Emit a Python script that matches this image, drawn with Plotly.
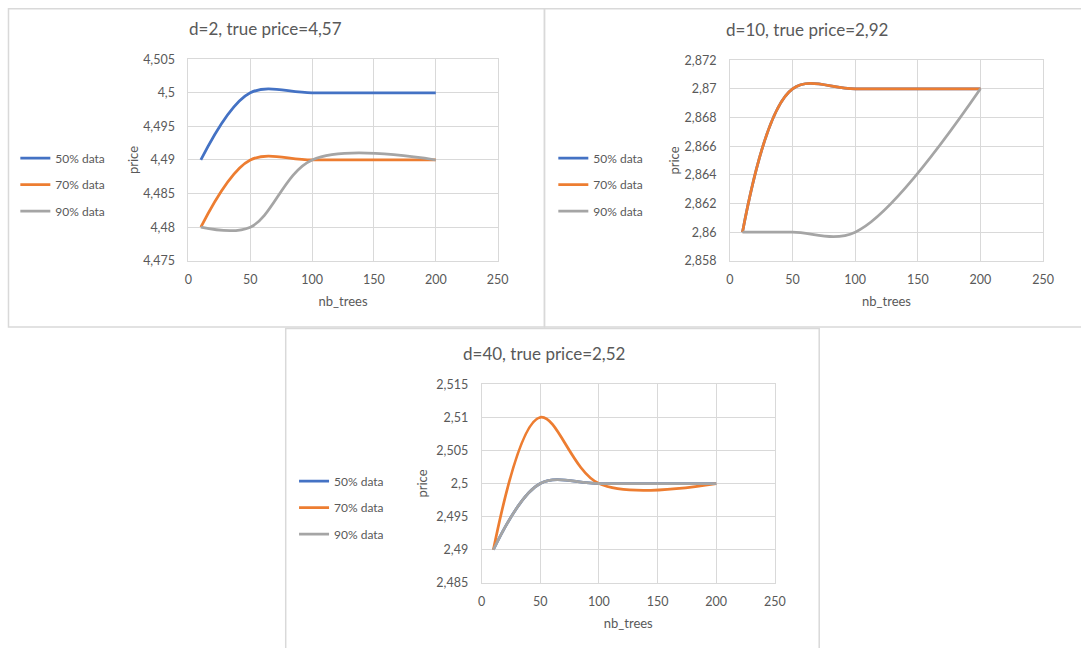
import plotly.graph_objects as go

# ---------------- data ----------------
nb_trees = [10, 50, 100, 200]
series_names = ["50% data", "70% data", "90% data"]
series_colors = ["#4472C4", "#ED7D31", "#A5A5A5"]

d2_50 = [4.49, 4.50, 4.50, 4.50]
d2_70 = [4.48, 4.49, 4.49, 4.49]
d2_90 = [4.48, 4.48, 4.49, 4.49]

d10_50 = [2.86, 2.87, 2.87, 2.87]
d10_70 = [2.86, 2.87, 2.87, 2.87]
d10_90 = [2.86, 2.86, 2.86, 2.87]

d40_50 = [2.49, 2.50, 2.50, 2.50]
d40_70 = [2.49, 2.51, 2.50, 2.50]
d40_90 = [2.49, 2.50, 2.50, 2.50]

chart_titles = ["d=2, true price=4,57", "d=10, true price=2,92", "d=40, true price=2,52"]
y_ranges = [[4.475, 4.505], [2.858, 2.872], [2.485, 2.515]]
y_dticks = [0.005, 0.002, 0.005]
x_range = [0, 250]
x_dtick = 50
x_title = "nb_trees"
y_title = "price"

charts = [
    [d2_50, d2_70, d2_90],
    [d10_50, d10_70, d10_90],
    [d40_50, d40_70, d40_90],
]

# ---------------- layout geometry (target pixels in the picture) ----------------
W, H = 1081, 648
panels = [(7.5, 5.5, 545, 328), (545, 5.5, 1100, 328), (285.5, 329.5, 820.5, 700)]
plot_areas = [(188, 61, 498, 262), (731, 62, 1045, 262), (482, 385, 776, 583)]
title_pos = [(265, 30), (808, 31), (545, 354)]
legend_pos = [(20.5, 186), (560, 186), (300, 508)]
ytitle_standoff = [1, 2, 5]

# the photographed page is slightly inset/scaled; map target picture px -> figure px
SX, OX = 0.9889, 3.0
SY, OY = 0.9737, 10.0

def fx(x):
    return (x - OX) / SX

def fy(y):
    return (y - OY) / SY

def px(x):
    return min(max(fx(x), 0.75), W - 0.75) / W

def py(y):
    return 1 - min(max(fy(y), 0.75), H - 0.75) / H

FONT = "Lato, Carlito, Calibri, 'Liberation Sans', sans-serif"
TXT = "#595959"
GRID = "#D9D9D9"

fig = go.Figure()

for ci, data in enumerate(charts):
    sfx = "" if ci == 0 else str(ci + 1)
    leg = "legend" if ci == 0 else "legend" + str(ci + 1)
    for si, ys in enumerate(data):
        fig.add_trace(go.Scatter(
            x=nb_trees, y=ys, name=series_names[si], mode="lines",
            line=dict(color=series_colors[si], width=2.75, shape="spline", smoothing=1.0),
            xaxis="x" + sfx, yaxis="y" + sfx, legend=leg,
            legendgroup=f"c{ci}s{si}", showlegend=True,
        ))
    x0, y0, x1, y1 = plot_areas[ci]
    axis_common = dict(
        showgrid=True, gridcolor=GRID, gridwidth=1,
        showline=True, linecolor=GRID, linewidth=1, mirror=True,
        zeroline=False, ticks="",
        tickfont=dict(family=FONT, size=12.5, color=TXT),
        fixedrange=True,
    )
    fig.layout["xaxis" + sfx] = dict(
        axis_common, domain=[px(x0), px(x1)], range=x_range, dtick=x_dtick, tick0=0,
        anchor="y" + sfx, ticklabelstandoff=7,
        title=dict(text=x_title, font=dict(family=FONT, size=13, color=TXT), standoff=11),
    )
    fig.layout["yaxis" + sfx] = dict(
        axis_common, domain=[py(y1), py(y0)], range=y_ranges[ci], dtick=y_dticks[ci],
        tick0=y_ranges[ci][0], anchor="x" + sfx, tickformat=".3~f", ticklabelstandoff=10,
        title=dict(text=y_title, font=dict(family=FONT, size=13, color=TXT),
                   standoff=ytitle_standoff[ci]),
    )
    lx, ly = legend_pos[ci]
    fig.layout[leg] = dict(
        x=(fx(lx) - 6.2) / W, y=py(ly), xanchor="left", yanchor="middle",
        xref="paper", yref="paper",
        bgcolor="rgba(0,0,0,0)", borderwidth=0,
        font=dict(family=FONT, size=12, color=TXT),
        traceorder="grouped", tracegroupgap=7.5, itemclick=False, itemdoubleclick=False,
    )
    tx, ty = title_pos[ci]
    fig.add_annotation(
        text=chart_titles[ci], x=px(tx), y=py(ty), xref="paper", yref="paper",
        xanchor="center", yanchor="middle", showarrow=False,
        font=dict(family=FONT, size=17, color=TXT),
    )
    bx0, by0, bx1, by1 = panels[ci]
    fig.add_shape(
        type="rect", xref="paper", yref="paper",
        x0=px(bx0), x1=(fx(bx1) / W), y0=(1 - fy(by1) / H), y1=py(by0),
        line=dict(color=GRID, width=1.5), fillcolor="rgba(0,0,0,0)", layer="below",
    )

fig.update_layout(
    width=W, height=H, margin=dict(l=0, r=0, t=0, b=0),
    paper_bgcolor="white", plot_bgcolor="white",
    separators=", ",
    font=dict(family=FONT, color=TXT),
)

fig.write_html(
    "out.html",
    config={"displayModeBar": False},
    post_script=(
        "var s=document.createElement('style');"
        "s.textContent='html,body{margin:0!important;padding:0!important;overflow:hidden!important;"
        "width:1081px;height:648px;}';"
        "document.head.appendChild(s);"
    ),
)
